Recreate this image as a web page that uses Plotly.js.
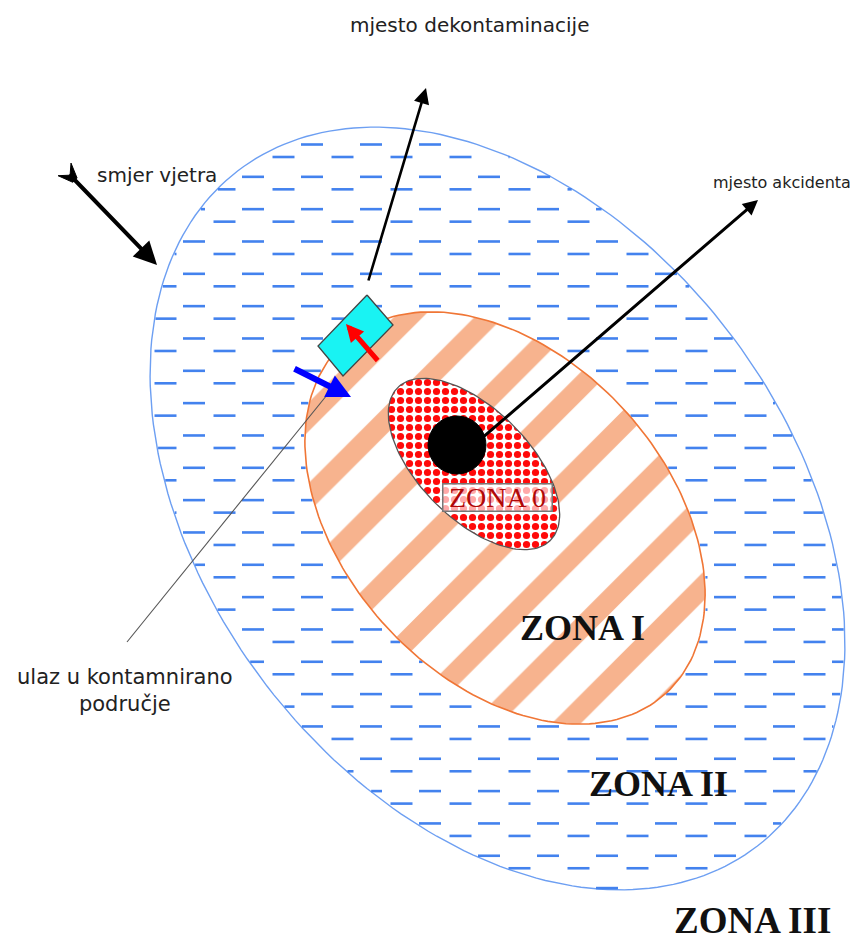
<!DOCTYPE html>
<html><head><meta charset="utf-8">
<script src="https://cdn.plot.ly/plotly-3.0.1.min.js"></script>
<style>html,body{margin:0;padding:0;background:#fff;} #chart{width:856px;height:940px;}</style>
</head><body><div id="chart"></div>
<script>
// ---------- text content ----------
const zoneLabels = ['ZONA 0', 'ZONA I', 'ZONA II', 'ZONA III'];
const calloutLabels = ['mjesto dekontaminacije', 'smjer vjetra', 'mjesto akcidenta', 'ulaz u kontamnirano<br>područje'];

// ---------- diagram geometry (pixel space of the 856x940 picture) ----------
const W = 856, H = 940;
const zoneII = {cx: 497.5, cy: 508.5, a: 426, b: 291, ang: 52.4};
const zoneI  = {cx: 505,   cy: 518,   a: 238, b: 161, ang: 47.3};
const zone0  = {cx: 474,   cy: 464,   a: 108, b: 55,  ang: 45};
const source = {cx: 457, cy: 445, r: 29};
const deconBox = {x: [367, 393, 343, 318], y: [295, 325, 376, 346]};
const dashGrid = {y0: 144.5, period: 32.33, rowShift: 12.5, xA: 6, xB: 36.5, step: 59, len: 22};

function ellipsePts(e, n) {
  const c = Math.cos(e.ang * Math.PI / 180), s = Math.sin(e.ang * Math.PI / 180);
  const xs = [], ys = [];
  for (let i = 0; i <= n; i++) {
    const t = 2 * Math.PI * i / n;
    const u = e.a * Math.cos(t), v = e.b * Math.sin(t);
    xs.push(e.cx + u * c - v * s);
    ys.push(e.cy + u * s + v * c);
  }
  return {x: xs, y: ys};
}
function rowInterval(e, y) {
  const c = Math.cos(e.ang * Math.PI / 180), s = Math.sin(e.ang * Math.PI / 180);
  const Y = y - e.cy, a2 = e.a * e.a, b2 = e.b * e.b;
  const A = c * c / a2 + s * s / b2;
  const B = 2 * Y * (c * s / a2 - c * s / b2);
  const C = Y * Y * (s * s / a2 + c * c / b2) - 1;
  const D = B * B - 4 * A * C;
  if (D <= 0) return null;
  const r = Math.sqrt(D);
  return [e.cx + (-B - r) / (2 * A), e.cx + (-B + r) / (2 * A)];
}

// blue dash hatch of zone II, kept outside zone I
const dashX = [], dashY = [];
for (let k = 0; ; k++) {
  const base = dashGrid.y0 + k * dashGrid.period;
  if (base > H) break;
  [[base, dashGrid.xA], [base + dashGrid.rowShift, dashGrid.xB]].forEach(([y, xs]) => {
    const outer = rowInterval(zoneII, y);
    if (!outer) return;
    const inner = rowInterval(zoneI, y);
    for (let x0 = xs; x0 < W; x0 += dashGrid.step) {
      let p0 = Math.max(x0, outer[0] + 1), p1 = Math.min(x0 + dashGrid.len, outer[1] - 1);
      if (p1 - p0 < 1) continue;
      let pieces = [[p0, p1]];
      if (inner) {
        pieces = [];
        if (p0 < inner[0]) pieces.push([p0, Math.min(p1, inner[0] - 1)]);
        if (p1 > inner[1]) pieces.push([Math.max(p0, inner[1] + 1), p1]);
      }
      pieces.forEach(([q0, q1]) => {
        if (q1 - q0 < 1) return;
        dashX.push(q0, q1, null); dashY.push(y, y, null);
      });
    }
  });
}

const eII = ellipsePts(zoneII, 240), eI = ellipsePts(zoneI, 200), e0 = ellipsePts(zone0, 160);

const traces = [
  {x: eII.x, y: eII.y, mode: 'lines', line: {color: '#6d9ff2', width: 1.4}, hoverinfo: 'skip'},
  {x: dashX, y: dashY, mode: 'lines', line: {color: '#4382ee', width: 2.6}, hoverinfo: 'skip', connectgaps: false},
  {x: eI.x, y: eI.y, mode: 'lines', fill: 'toself', fillcolor: '#ffffff',
   fillpattern: {shape: '/', size: 57, solidity: 0.36, fgcolor: '#f7b38e', bgcolor: '#ffffff'},
   line: {color: '#f07636', width: 1.6}, hoverinfo: 'skip'},
  {x: e0.x, y: e0.y, mode: 'lines', fill: 'toself', fillcolor: '#ffffff',
   fillpattern: {shape: '.', size: 9, solidity: 0.5, fgcolor: '#ff0a0a', bgcolor: '#ffffff'},
   line: {color: '#555555', width: 1.3}, hoverinfo: 'skip'},
  {x: deconBox.x.concat([deconBox.x[0]]), y: deconBox.y.concat([deconBox.y[0]]), mode: 'lines',
   fill: 'toself', fillcolor: '#19f3f3', line: {color: '#444444', width: 1.3}, hoverinfo: 'skip'}
];

// wind arrow tail feather
const wt = {x: 68, y: 173}, wh = {x: 157, y: 265};
const dl = Math.hypot(wh.x - wt.x, wh.y - wt.y);
const d = {x: (wh.x - wt.x) / dl, y: (wh.y - wt.y) / dl}, nrm = {x: -d.y, y: d.x};
function P(t, n) { return (wt.x + t * d.x + n * nrm.x).toFixed(1) + ',' + (wt.y + t * d.y + n * nrm.y).toFixed(1); }
const tailPath = 'M' + P(-5, 9) + 'L' + P(10, 3) + 'L' + P(10, -3) + 'L' + P(-5, -9) + 'L' + P(3, 0) + 'Z';

const shapes = [
  {type: 'circle', xref: 'x', yref: 'y', x0: source.cx - source.r, x1: source.cx + source.r,
   y0: source.cy - source.r, y1: source.cy + source.r, fillcolor: '#000000', line: {color: '#000', width: 1}, layer: 'above'},
  {type: 'line', xref: 'x', yref: 'y', x0: 127, y0: 642, x1: 327, y1: 395, line: {color: '#555555', width: 1.1}, layer: 'above'},
  {type: 'path', xref: 'x', yref: 'y', path: tailPath, fillcolor: '#000', line: {color: '#000', width: 1}, layer: 'above'}
];

function arrow(tx, ty, hx, hy, w, sz, col, head) {
  return {x: hx, y: hy, ax: tx, ay: ty, xref: 'x', yref: 'y', axref: 'x', ayref: 'y', text: '',
    showarrow: true, arrowhead: head || 2, arrowsize: sz, arrowwidth: w, arrowcolor: col, standoff: 0, startstandoff: 0};
}
const sansFont = 'DejaVu Sans, Liberation Sans, sans-serif';
const serifFont = 'Liberation Serif, Times New Roman, serif';
function label(txt, x, y, size, opts) {
  return Object.assign({x: x, y: y, xref: 'x', yref: 'y', text: txt, showarrow: false,
    font: {family: sansFont, size: size, color: '#222222'}}, opts || {});
}

const annotations = [
  arrow(368, 282, 426, 88, 2.6, 1.2, '#000000'),
  arrow(481, 439, 758, 200, 3, 1.0, '#000000'),
  arrow(wt.x, wt.y, wh.x, wh.y, 4, 1.15, '#000000'),
  arrow(293, 368, 351, 397, 6, 0.8, '#0000ff'),
  arrow(379, 362, 346, 324, 5, 0.7, '#ff0000'),
  label(calloutLabels[0], 469, 25, 20),
  label(calloutLabels[1], 95, 175, 20, {xanchor: 'left'}),
  label(calloutLabels[2], 711, 182, 16, {xanchor: 'left'}),
  label(calloutLabels[3], 125, 690, 21, {align: 'center'}),
  {x: 497, y: 497, xref: 'x', yref: 'y', text: zoneLabels[0], showarrow: false,
   font: {family: serifFont, size: 28, color: '#b00808'}, bgcolor: 'rgba(255,255,255,0.65)',
   bordercolor: '#777777', borderwidth: 1.5, borderpad: 0, width: 108, height: 26},
  label('<b>' + zoneLabels[1] + '</b>', 582, 628, 36, {font: {family: serifFont, size: 36, color: '#111111'}}),
  label('<b>' + zoneLabels[2] + '</b>', 658, 784, 36, {font: {family: serifFont, size: 36, color: '#111111'}}),
  label('<b>' + zoneLabels[3] + '</b>', 752, 920, 37, {font: {family: serifFont, size: 37, color: '#111111'}})
];

const layout = {
  width: W, height: H, margin: {l: 0, r: 0, t: 0, b: 0},
  paper_bgcolor: '#ffffff', plot_bgcolor: '#ffffff', showlegend: false, hovermode: false,
  xaxis: {range: [0, W], visible: false, fixedrange: true},
  yaxis: {range: [H, 0], visible: false, fixedrange: true},
  shapes: shapes, annotations: annotations
};
Plotly.newPlot('chart', traces, layout, {staticPlot: true, displayModeBar: false});
</script></body></html>
